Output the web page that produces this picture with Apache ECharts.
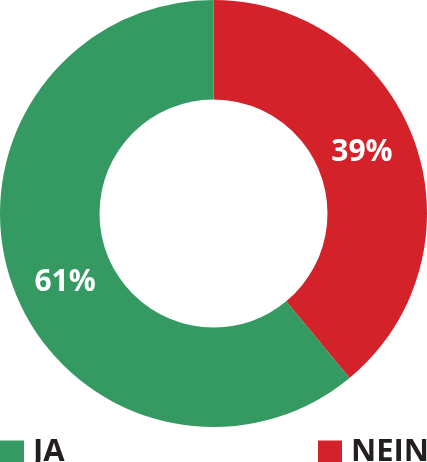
<!DOCTYPE html>
<html>
<head>
<meta charset="utf-8">
<script src="https://cdn.jsdelivr.net/npm/echarts@6/dist/echarts.min.js"></script>
<style>
html,body{margin:0;padding:0;background:#fff;}
#c{width:427px;height:462px;}
</style>
</head>
<body>
<div id="c"></div>
<script>
const categories = ['JA', 'NEIN'];
const values = [61, 39];
const colors = ['#349a62', '#d3222a'];

const chart = echarts.init(document.getElementById('c'), null, {renderer: 'canvas'});
const font = '"Open Sans", sans-serif';
const legendText = {fontFamily: font, fontSize: 31, fontWeight: 'bold', color: '#231f20', padding: [0, 0, 0, 4]};
const option = {
  animation: false,
  color: colors,
  legend: [
    {
      data: [categories[0]], left: 0, top: 437, itemWidth: 24, itemHeight: 24, itemGap: 0,
      icon: 'rect', padding: 0, textStyle: legendText
    },
    {
      data: [categories[1]], left: 318, top: 437, itemWidth: 24, itemHeight: 24, itemGap: 0,
      icon: 'rect', padding: 0, textStyle: legendText
    }
  ],
  series: [{
    type: 'pie',
    center: [213.5, 213.5],
    radius: [114, 213.5],
    startAngle: 90,
    clockwise: true,
    data: [
      {name: categories[1], value: values[1], itemStyle: {color: colors[1]},
       label: {padding: [0, 17, 0, 0], offset: [0, -5]}},
      {name: categories[0], value: values[0], itemStyle: {color: colors[0]},
       label: {padding: [0, 0, 0, 17], offset: [0, 12]}}
    ],
    label: {
      show: true, position: 'inside', formatter: '{d}%',
      fontFamily: font, fontSize: 30, fontWeight: 'bold', color: '#fff'
    },
    labelLine: {show: false},
    emphasis: {disabled: true}
  }]
};
chart.setOption(option);
</script>
</body>
</html>
